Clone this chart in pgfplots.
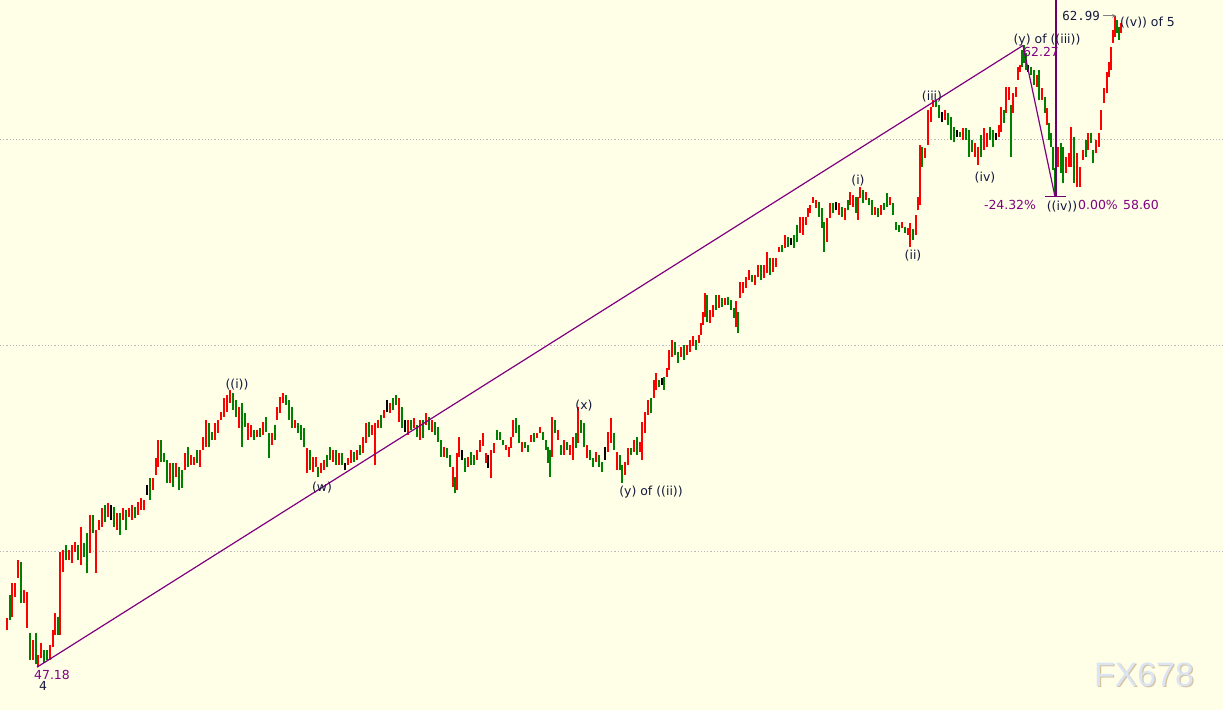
\documentclass[border=0pt]{standalone}
\usepackage{pgfplots}
\usepackage{pgfplotstable}
\pgfplotsset{compat=1.18}
\usetikzlibrary{arrows.meta}
\usepackage{fontspec}
\setmainfont{DejaVu Sans}
\newfontfamily\monof{DejaVu Sans Mono}
\newfontfamily\wmf{Liberation Sans}
\definecolor{bg}{RGB}{255,255,232}
\definecolor{barred}{RGB}{255,0,0}
\definecolor{bargreen}{RGB}{0,128,0}
\definecolor{trend}{RGB}{128,0,128}
\definecolor{vline}{RGB}{110,0,110}
\definecolor{labc}{RGB}{20,25,60}
\definecolor{gridc}{RGB}{185,185,195}
\definecolor{wm}{RGB}{218,228,242}
\definecolor{wmshadow}{RGB}{215,195,160}
\tikzset{lab/.style={font=\fontsize{12.5}{14}\selectfont, inner sep=1bp}}
% up bars (red)
\pgfplotstableread{
x lo hi
7 48.08 48.37
12 48.39 49.22
15 48.88 49.22
18 49.34 49.78
24 48.74 49.05
27 48.13 49.00
33 47.35 47.84
38 47.18 47.47
41 47.40 47.76
50 47.35 47.72
53 47.67 48.08
55 47.96 48.49
60 47.96 49.97
63 49.49 50.02
69 49.78 50.02
72 49.71 50.14
75 49.97 50.22
81 49.66 50.58
90 49.95 50.87
96 49.46 50.51
99 50.51 50.75
102 50.58 51.04
108 50.82 51.16
117 50.51 50.92
123 50.75 51.04
129 50.82 51.04
132 50.75 51.11
138 50.87 51.19
141 50.99 51.28
144 50.99 51.24
153 51.48 51.77
156 51.84 52.25
158 52.04 52.69
170 51.65 52.13
176 51.79 52.13
185 51.96 52.38
191 52.09 52.33
194 52.09 52.28
200 52.04 52.45
203 52.45 52.76
206 52.52 53.18
215 52.69 53.10
218 52.86 53.18
221 53.18 53.37
224 53.25 53.71
227 53.37 53.78
230 53.59 53.91
239 52.98 53.49
248 52.69 53.10
251 52.76 53.06
257 52.76 52.93
263 52.81 53.13
272 52.57 52.86
277 53.18 53.49
280 53.35 53.73
283 53.59 53.83
295 52.98 53.18
307 51.89 52.50
313 51.91 52.28
316 52.04 52.28
321 51.89 52.13
324 51.96 52.21
333 52.16 52.45
339 52.09 52.38
348 52.09 52.25
351 52.13 52.45
357 52.21 52.45
363 52.38 52.76
366 52.62 53.10
372 52.81 53.06
375 52.09 53.10
378 52.98 53.18
384 53.23 53.42
390 53.35 53.59
399 53.13 53.71
408 52.81 53.18
414 52.98 53.23
420 52.69 53.18
426 53.06 53.35
432 52.89 53.18
444 52.28 52.52
453 51.55 52.04
457 51.48 52.38
459 52.28 52.76
468 52.04 52.28
477 52.21 52.45
480 52.40 52.69
483 52.55 52.86
486 52.13 52.38
491 51.77 52.45
494 52.38 52.62
506 52.45 52.57
509 52.28 52.52
511 52.50 52.76
513 52.76 53.18
522 52.40 52.64
531 52.64 52.81
537 52.74 52.86
540 52.86 53.01
552 52.28 53.25
558 52.69 52.93
564 52.33 52.69
570 52.33 52.57
573 52.21 52.76
578 52.62 53.49
587 52.25 52.57
596 52.16 52.40
608 52.40 52.89
611 52.62 53.23
617 51.96 52.40
625 51.84 52.16
628 52.09 52.50
634 52.40 52.69
640 52.40 52.64
642 52.21 53.13
645 52.86 53.37
648 53.30 53.66
654 53.71 54.15
656 53.91 54.32
667 54.22 54.44
669 54.39 54.88
672 54.71 55.12
681 54.71 54.95
687 54.75 55.00
690 54.83 55.12
693 54.97 55.22
699 55.05 55.24
701 55.24 55.53
703 55.48 55.80
705 55.68 56.26
710 55.53 55.85
713 55.68 55.97
719 55.90 56.21
725 55.97 56.14
736 55.43 56.07
740 56.14 56.53
743 56.26 56.53
746 56.38 56.65
749 56.57 56.82
755 56.45 56.70
758 56.65 56.94
764 56.62 56.94
767 56.75 57.26
773 56.77 57.11
776 56.89 57.11
779 57.26 57.38
785 57.35 57.67
800 57.72 58.11
803 57.67 58.11
806 57.91 58.11
808 58.11 58.32
810 58.20 58.39
813 58.44 58.59
816 58.32 58.52
827 57.50 58.08
830 58.08 58.44
839 58.15 58.44
845 58.03 58.32
850 58.39 58.71
853 58.35 58.64
858 58.03 58.59
860 58.57 58.83
866 58.52 58.71
875 58.15 58.35
881 58.15 58.39
890 58.39 58.59
902 57.84 57.98
908 57.67 57.84
910 57.38 57.96
916 57.67 58.15
918 58.27 58.59
920 58.39 59.85
925 59.54 59.78
928 59.85 60.70
931 60.41 60.77
933 60.77 60.94
945 60.46 60.70
963 59.97 60.26
975 59.56 59.90
978 59.37 59.80
984 59.73 60.26
987 59.80 60.14
999 60.05 60.34
1001 60.17 60.77
1006 60.63 61.26
1009 60.94 61.26
1013 60.63 61.11
1016 61.02 61.26
1018 61.43 61.75
1020 61.63 61.80
1037 61.26 61.55
1042 60.94 61.23
1047 60.34 60.75
1058 59.32 59.80
1066 59.17 59.56
1069 59.32 59.66
1071 59.32 60.29
1077 58.83 59.66
1080 58.83 59.32
1083 59.49 59.73
1088 59.73 60.14
1096 59.66 59.97
1099 59.80 60.14
1101 60.22 60.70
1104 60.87 61.23
1107 61.11 61.63
1109 61.50 61.87
1111 61.67 62.23
1113 62.33 62.65
1115 62.47 62.99
1121 62.57 62.81
}\redbars
% down bars (green)
\pgfplotstableread{
x lo hi
10 48.32 48.93
21 48.74 49.73
30 47.35 48.01
36 47.25 48.01
44 47.28 47.59
47 47.35 47.59
58 47.96 48.39
66 49.78 50.14
78 49.78 50.14
84 49.85 50.19
87 49.46 50.43
93 50.43 50.87
105 50.70 51.11
114 50.58 51.06
120 50.39 50.92
126 50.51 50.99
135 50.80 51.06
150 51.24 51.77
161 52.16 52.69
164 52.16 52.38
167 51.65 52.21
173 51.55 52.13
179 51.48 52.04
182 51.53 51.96
188 52.04 52.52
197 52.13 52.45
209 52.52 53.10
212 52.69 52.89
233 53.42 53.83
236 53.25 53.66
242 52.52 53.59
245 53.01 53.35
254 52.69 52.93
260 52.76 52.98
266 52.89 53.25
269 52.25 52.86
275 52.69 53.06
286 53.54 53.78
289 53.18 53.66
292 52.98 53.49
298 52.86 53.10
301 52.69 53.06
304 52.52 52.98
310 51.96 52.45
318 51.79 52.04
327 52.04 52.33
330 52.21 52.52
336 52.09 52.45
342 52.09 52.38
354 52.16 52.40
360 52.33 52.57
369 52.76 53.13
381 52.98 53.30
393 53.42 53.71
396 53.54 53.78
402 52.98 53.49
411 52.93 53.18
417 52.76 53.06
423 52.74 53.18
429 52.93 53.25
435 52.81 53.13
438 52.64 53.01
441 52.28 52.69
447 52.25 52.50
450 52.04 52.33
455 51.40 51.79
465 51.91 52.25
471 52.09 52.40
474 52.09 52.33
497 52.69 52.93
500 52.69 52.89
503 52.57 52.69
516 52.86 53.23
519 52.62 53.06
525 52.50 52.64
528 52.40 52.57
534 52.64 52.86
543 52.69 52.89
546 52.45 52.69
548 52.13 52.52
550 51.79 52.45
555 52.86 53.18
561 52.33 52.57
567 52.45 52.64
576 52.50 52.86
581 52.86 53.18
584 52.52 53.10
590 52.21 52.45
593 52.04 52.25
599 52.04 52.33
602 51.91 52.16
614 52.45 52.86
620 51.96 52.33
622 51.65 52.09
631 52.33 52.50
637 52.33 52.76
651 53.35 53.71
659 53.98 54.15
664 53.91 54.22
675 54.75 55.07
678 54.56 54.83
684 54.64 55.00
696 54.88 55.12
707 55.56 56.21
716 55.85 56.21
722 55.92 56.14
728 55.97 56.16
731 55.85 56.09
734 55.65 55.90
738 55.29 55.80
752 56.53 56.70
761 56.57 56.94
770 56.70 57.11
782 57.26 57.42
788 57.38 57.62
794 57.35 57.67
797 57.50 57.91
819 58.11 58.47
822 57.84 58.32
824 57.26 57.98
833 58.20 58.44
842 58.11 58.35
848 58.27 58.52
856 58.20 58.59
863 58.44 58.76
869 58.39 58.57
872 58.15 58.52
878 58.11 58.32
884 58.27 58.44
887 58.35 58.69
893 58.15 58.44
896 57.79 57.98
899 57.74 57.91
905 57.72 57.86
913 57.55 57.81
922 59.32 59.80
936 60.77 60.94
939 60.51 60.82
948 60.34 60.63
951 59.97 60.53
954 59.92 60.29
960 60.05 60.17
966 59.97 60.26
969 59.56 60.22
972 59.68 59.97
981 59.56 60.09
990 59.97 60.29
993 59.80 60.22
1004 60.39 60.70
1011 59.56 60.82
1022 61.75 62.16
1024 61.84 62.27
1026 61.67 62.08
1031 61.55 61.75
1034 61.31 61.67
1039 60.94 61.67
1045 60.63 61.02
1049 59.97 60.39
1051 59.80 60.14
1053 59.25 59.80
1055 58.60 59.30
1061 59.17 59.90
1063 58.93 59.80
1074 58.93 60.05
1086 59.56 59.97
1091 59.90 60.14
1093 59.41 59.73
1117 62.57 62.89
1119 62.40 62.72
}\greenbars
% doji bars (black)
\pgfplotstableread{
x lo hi
111 50.75 51.11
147 51.36 51.60
345 51.96 52.13
387 53.37 53.66
405 52.89 53.18
462 52.21 52.45
488 52.01 52.33
605 52.21 52.52
662 54.03 54.20
791 57.42 57.59
836 58.27 58.47
942 60.41 60.65
957 60.05 60.22
996 59.97 60.14
1028 61.63 61.80
}\blackbars
\begin{document}
\begin{tikzpicture}
\begin{axis}[
  scale only axis, width=1223bp, height=710bp,
  xmin=0, xmax=1223, ymin=46.141, ymax=63.374,
  hide axis, clip=true,
  barstyle/.style={draw=none, mark=none, forget plot,
    error bars/.cd, y dir=plus, y explicit, error mark=none,
    error bar style={line width=2.3bp, draw=#1, solid}},
]
\fill[bg] (rel axis cs:0,0) rectangle (rel axis cs:1,1);
\foreach \g in {50,55,60} {
  \edef\tmp{\noexpand\draw[gridc, line width=0.8bp, dash pattern=on 1.2bp off 2bp] (axis cs:0,\g) -- (axis cs:1223,\g);}
  \tmp
}
\addplot[barstyle=bargreen] table[x=x, y=lo, y error plus expr=\thisrow{hi}-\thisrow{lo}] {\greenbars};
\addplot[barstyle=barred] table[x=x, y=lo, y error plus expr=\thisrow{hi}-\thisrow{lo}] {\redbars};
\addplot[barstyle=black] table[x=x, y=lo, y error plus expr=\thisrow{hi}-\thisrow{lo}] {\blackbars};
% trend lines
\addplot[trend, line width=1.2bp] coordinates {(37,47.18) (1023,62.27)};
\addplot[trend, line width=1.2bp] coordinates {(1023,62.27) (1055,58.60)};
\addplot[vline, line width=1.2bp] coordinates {(1056,58.60) (1056,63.374)};
\addplot[vline, line width=1.2bp] coordinates {(1045,58.60) (1066,58.60)};
% labels
\node[lab, trend] at (axis cs:52,46.99) {47.18};
\node[lab, labc] at (axis cs:43,46.72) {4};
\node[lab, labc] at (axis cs:237,54.05) {((i))};
\node[lab, labc] at (axis cs:322,51.53) {(w)};
\node[lab, labc] at (axis cs:584,53.54) {(x)};
\node[lab, labc] at (axis cs:651,51.43) {(y) of ((ii))};
\node[lab, labc] at (axis cs:858,59.00) {(i)};
\node[lab, labc] at (axis cs:913,57.16) {(ii)};
\node[lab, labc] at (axis cs:932,61.02) {(iii)};
\node[lab, labc] at (axis cs:985,59.07) {(iv)};
\node[lab, labc] at (axis cs:1047,62.40) {(y) of ((iii))};
\node[lab, trend, anchor=west, inner sep=0pt] at (axis cs:1023,62.11) {62.27};
\node[lab, trend] at (axis cs:1010,58.40) {-24.32\%};
\node[lab, labc] at (axis cs:1062,58.35) {((iv))};
\node[lab, trend] at (axis cs:1098,58.40) {0.00\%};
\node[lab, trend] at (axis cs:1141,58.40) {58.60};
\node[lab, labc, anchor=west, inner sep=0pt] at (axis cs:1120,62.82) {((v)) of 5};
\node[labc, anchor=east, inner sep=0pt, font=\monof\fontsize{12.5}{14}\selectfont] at (axis cs:1100,62.99) {62.99};
\draw[gray, line width=0.8bp, -{Stealth[length=4bp,width=4bp]}] (axis cs:1103,62.99) -- (axis cs:1116,62.99);
\node[wmshadow, font=\wmf\fontsize{34}{36}\selectfont] at ([xshift=1.2bp,yshift=-1.2bp]axis cs:1144,46.99) {FX678};
\node[wm, font=\wmf\fontsize{34}{36}\selectfont] at (axis cs:1144,46.99) {FX678};
\end{axis}
\end{tikzpicture}
\end{document}
